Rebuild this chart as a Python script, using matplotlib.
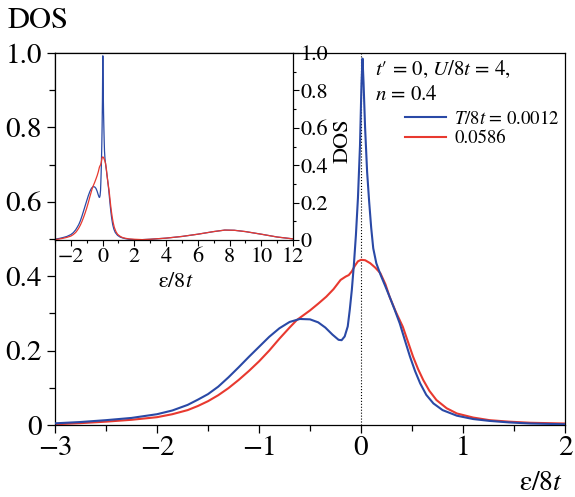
import numpy as np
import matplotlib
matplotlib.use("Agg")
import matplotlib.pyplot as plt
from matplotlib.ticker import MultipleLocator, FuncFormatter

plt.rcParams.update({"font.family": "STIXGeneral", "mathtext.fontset": "stix",
                     "axes.unicode_minus": True})
BLUE, RED = "#2a49a6", "#e8392f"

# DOS at T/8t = 0.0012 (low-energy part, eps/8t from -3 to 2)
eps_blue = [-3.0, -2.75, -2.5, -2.25, -2.0, -1.85, -1.7, -1.6, -1.5, -1.4, -1.3, -1.2, -1.1,
            -1.0, -0.9, -0.8, -0.7, -0.6, -0.5, -0.42, -0.35, -0.28, -0.22, -0.19, -0.16,
            -0.13, -0.11, -0.09, -0.07, -0.05, -0.03, -0.01, 0.005, 0.015, 0.025, 0.04,
            0.06, 0.08, 0.10, 0.12, 0.15, 0.19, 0.24, 0.28, 0.33, 0.38, 0.43, 0.48, 0.53,
            0.58, 0.64, 0.71, 0.8, 0.94, 1.1, 1.26, 1.45, 1.66, 2.0]
dos_blue = [0.0045, 0.008, 0.013, 0.019, 0.029, 0.039, 0.054, 0.068, 0.083, 0.103, 0.128,
            0.155, 0.183, 0.210, 0.237, 0.260, 0.277, 0.285, 0.284, 0.276, 0.262, 0.243,
            0.229, 0.228, 0.238, 0.265, 0.31, 0.363, 0.43, 0.51, 0.61, 0.75, 0.92, 0.985,
            0.92, 0.80, 0.68, 0.60, 0.53, 0.475, 0.435, 0.405, 0.372, 0.345, 0.310, 0.273,
            0.228, 0.184, 0.145, 0.112, 0.081, 0.058, 0.040, 0.025, 0.016, 0.011, 0.007,
            0.004, 0.002]

# DOS at T/8t = 0.0586
eps_red = [-3.0, -2.75, -2.5, -2.25, -2.0, -1.85, -1.7, -1.6, -1.5, -1.4, -1.3, -1.2, -1.1,
           -1.0, -0.9, -0.8, -0.7, -0.63, -0.55, -0.5, -0.42, -0.34, -0.27, -0.2,
           -0.15, -0.12, -0.09, -0.06, -0.03, 0.0, 0.04, 0.09, 0.14, 0.19, 0.24, 0.28, 0.34,
           0.41, 0.46, 0.51, 0.56, 0.61, 0.67, 0.74, 0.84, 0.94, 1.1, 1.26, 1.45, 1.66, 2.0]
dos_red = [0.002, 0.005, 0.009, 0.014, 0.021, 0.029, 0.040, 0.051, 0.064, 0.080, 0.099,
           0.121, 0.145, 0.171, 0.200, 0.232, 0.262, 0.282, 0.298, 0.308, 0.326,
           0.345, 0.365, 0.390, 0.399, 0.403, 0.413, 0.428, 0.440, 0.444, 0.443, 0.435,
           0.423, 0.408, 0.378, 0.345, 0.305, 0.264, 0.224, 0.184, 0.150, 0.121, 0.092,
           0.067, 0.045, 0.031, 0.020, 0.013, 0.009, 0.006, 0.004]

# upper Hubbard band (same for both temperatures), shown in the inset
eps_ub = [2.5, 3.0, 4.0, 5.0, 6.0, 7.0, 7.7, 8.3, 9.0, 10.0, 11.0, 12.0]
dos_ub = [0.002, 0.004, 0.010, 0.019, 0.031, 0.045, 0.053, 0.052, 0.045, 0.031, 0.016, 0.006]


def fmt(v, _):
    return "0" if abs(v) < 1e-9 else f"{v:.1f}".replace("-", "\u2212")


fig = plt.figure(figsize=(5.75, 4.97), dpi=100)
W, H = 575, 497
ax = fig.add_axes([55 / W, 1 - 425 / H, 510 / W, 372 / H])
ax.axvline(0, ls=":", color="k", lw=0.8, zorder=1)
ax.plot(eps_blue, dos_blue, color=BLUE, lw=1.5, zorder=3)
ax.plot(eps_red, dos_red, color=RED, lw=1.5, zorder=2)
ax.set_xlim(-3, 2); ax.set_ylim(0, 1)
ax.xaxis.set_major_locator(MultipleLocator(1)); ax.xaxis.set_minor_locator(MultipleLocator(0.5))
ax.yaxis.set_major_locator(MultipleLocator(0.2)); ax.yaxis.set_minor_locator(MultipleLocator(0.1))
ax.yaxis.set_major_formatter(FuncFormatter(fmt))
ax.tick_params(which="both", direction="out", labelsize=21, width=0.9)
ax.tick_params(which="major", length=6); ax.tick_params(which="minor", length=4)
ax.tick_params(axis="x", pad=2)
for s in ax.spines.values():
    s.set_linewidth(0.9)
ax.set_xlabel("ε/8$t$", fontsize=20)
ax.xaxis.set_label_coords(0.952, -0.124)
fig.text(38 / W, 1 - 21 / H, "DOS", fontsize=22, ha="center", va="center")

fig.text(375 / W, 1 - 75 / H, "$t$\u2032 = 0, $U$/8$t$ = 4,", fontsize=15, va="baseline")
fig.text(375 / W, 1 - 100 / H, "$n$ = 0.4", fontsize=15, va="baseline")
h1, = ax.plot([], [], color=BLUE, lw=1.5)
h2, = ax.plot([], [], color=RED, lw=1.5)
ax.legend([h1, h2], ["$T$/8$t$ = 0.0012", "0.0586"], frameon=False, fontsize=13.5,
          loc="upper left", bbox_to_anchor=(342 / 510, 1 - 49 / 372), handlelength=2.2,
          handletextpad=0.45, labelspacing=0.15, borderaxespad=0)

# inset
ai = fig.add_axes([55 / W, 1 - 240 / H, 238 / W, 187 / H])
ai.plot(eps_blue + eps_ub, dos_blue + dos_ub, color=BLUE, lw=0.9)
ai.plot(eps_red + eps_ub, dos_red + dos_ub, color=RED, lw=0.9)
ai.set_xlim(-3, 12); ai.set_ylim(0, 1)
ai.xaxis.set_major_locator(MultipleLocator(2)); ai.xaxis.set_minor_locator(MultipleLocator(1))
ai.yaxis.set_major_locator(MultipleLocator(0.2)); ai.yaxis.set_minor_locator(MultipleLocator(0.1))
ai.yaxis.set_major_formatter(FuncFormatter(fmt))
ai.yaxis.tick_right()
ai.tick_params(which="both", direction="out", labelsize=16, width=0.8, pad=1.5)
ai.tick_params(which="major", length=4); ai.tick_params(which="minor", length=2.5)
for s in ai.spines.values():
    s.set_linewidth(0.9)
ai.set_xlabel("ε/8$t$", fontsize=16)
ai.xaxis.set_label_coords(0.508, -0.17)
ai.yaxis.set_label_position("right")
ai.set_ylabel("DOS", fontsize=16, rotation=90, va="center")
ai.yaxis.set_label_coords(1.21, 0.53)

fig.savefig("out.png", dpi=100)
